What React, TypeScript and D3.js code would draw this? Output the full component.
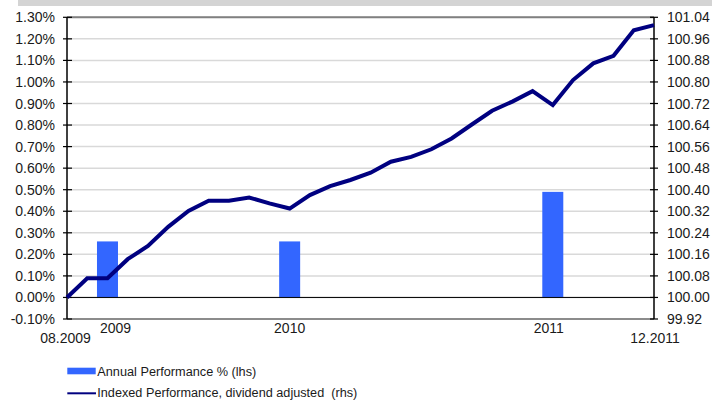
import React from "react";
import * as d3 from "d3";

const indexValues = [
  100.0, 100.071, 100.071, 100.142, 100.191, 100.262, 100.321, 100.359, 100.359, 100.371,
  100.349, 100.33, 100.38, 100.413, 100.436, 100.463, 100.504, 100.522, 100.55, 100.59,
  100.642, 100.693, 100.727, 100.766, 100.714, 100.807, 100.869, 100.897, 100.992, 101.011,
];
const barIndex = [2, 11, 24];
const barValues = [0.26, 0.26, 0.49];
const yearLabels = ["2009", "2010", "2011"];
const yearLabelPos = [2.4, 11, 23.8];
const leftTicks = [-0.1, 0, 0.1, 0.2, 0.3, 0.4, 0.5, 0.6, 0.7, 0.8, 0.9, 1.0, 1.1, 1.2, 1.3];
const rightTicks = [99.92, 100.0, 100.08, 100.16, 100.24, 100.32, 100.4, 100.48, 100.56, 100.64, 100.72, 100.8, 100.88, 100.96, 101.04];
const startLabel = "08.2009";
const endLabel = "12.2011";
const legendLabels = ["Annual Performance % (lhs)", "Indexed Performance, dividend adjusted  (rhs)"];

const W = 712;
const H = 405;
const FONT = "'Liberation Sans', Arial, sans-serif";

export default function App() {
  const x = d3.scaleLinear().domain([0, indexValues.length - 1]).range([67, 654]);
  const yL = d3.scaleLinear().domain([-0.1, 1.3]).range([319, 17.3]);
  const yR = d3.scaleLinear().domain([99.92, 101.04]).range([319, 17.3]);
  const line = d3
    .line<number>()
    .x((_, i) => x(i))
    .y((d) => yR(d));
  const barW = 21;

  return (
    <div style={{ position: "absolute", left: 0, top: 0 }}>
      <svg width={W} height={H} style={{ display: "block", background: "#fff" }}>
        <rect x={18} y={0} width={W - 18} height={6} fill="#d4d4d4" />
        {leftTicks.map((t, i) => (
          <line key={"g" + i} x1={67} x2={654} y1={yL(t)} y2={yL(t)} stroke="#d9d9d9" strokeWidth={1.5} />
        ))}
        <line x1={67} x2={654} y1={yL(1.3)} y2={yL(1.3)} stroke="#808080" strokeWidth={2} />
        <line x1={67} x2={654} y1={yL(-0.1)} y2={yL(-0.1)} stroke="#8c8c8c" strokeWidth={2} />
        {barIndex.map((bi, i) => (
          <rect
            key={"b" + i}
            x={x(bi) - barW / 2}
            y={yL(barValues[i])}
            width={barW}
            height={yL(0) - yL(barValues[i])}
            fill="#3366ff"
          />
        ))}
        <line x1={67} x2={654} y1={yL(0)} y2={yL(0)} stroke="#000" strokeWidth={1} />
        <line x1={67} x2={67} y1={yL(1.3)} y2={yL(-0.1)} stroke="#000" strokeWidth={1.5} />
        <line x1={654} x2={654} y1={yR(101.04)} y2={yR(99.92)} stroke="#000" strokeWidth={1.5} />
        {leftTicks.map((t, i) => (
          <g key={"lt" + i}>
            <line x1={63} x2={72} y1={yL(t)} y2={yL(t)} stroke="#000" strokeWidth={1.2} />
            <text x={55} y={yL(t)} dy="0.36em" textAnchor="end" fontFamily={FONT} fontSize={14} fill="#1a1a1a">
              {t.toFixed(2) + "%"}
            </text>
          </g>
        ))}
        {rightTicks.map((t, i) => (
          <g key={"rt" + i}>
            <line x1={650} x2={658} y1={yR(t)} y2={yR(t)} stroke="#000" strokeWidth={1.2} />
            <text x={667} y={yR(t)} dy="0.36em" textAnchor="start" fontFamily={FONT} fontSize={14} fill="#1a1a1a">
              {t.toFixed(2)}
            </text>
          </g>
        ))}
        <path d={line(indexValues) || ""} fill="none" stroke="#000080" strokeWidth={4} strokeLinejoin="miter" />
        {yearLabels.map((l, i) => (
          <text key={"y" + i} x={x(yearLabelPos[i])} y={333} textAnchor="middle" fontFamily={FONT} fontSize={14} fill="#1a1a1a">
            {l}
          </text>
        ))}
        <text x={65.5} y={342.7} textAnchor="middle" fontFamily={FONT} fontSize={14} fill="#1a1a1a">
          {startLabel}
        </text>
        <text x={655} y={342.7} textAnchor="middle" fontFamily={FONT} fontSize={14} fill="#1a1a1a">
          {endLabel}
        </text>
        <rect x={67.3} y={367.7} width={28.4} height={6.6} fill="#3366ff" />
        <text x={97.3} y={375.7} fontFamily={FONT} fontSize={12.5} fill="#1a1a1a" textLength={159} lengthAdjust="spacingAndGlyphs">
          {legendLabels[0]}
        </text>
        <line x1={67.3} x2={96} y1={393.3} y2={393.3} stroke="#000080" strokeWidth={2} />
        <text
          x={97.3}
          y={397}
          fontFamily={FONT}
          fontSize={12.5}
          fill="#1a1a1a"
          textLength={260}
          lengthAdjust="spacingAndGlyphs"
          style={{ whiteSpace: "pre" }}
        >
          {legendLabels[1]}
        </text>
      </svg>
    </div>
  );
}
